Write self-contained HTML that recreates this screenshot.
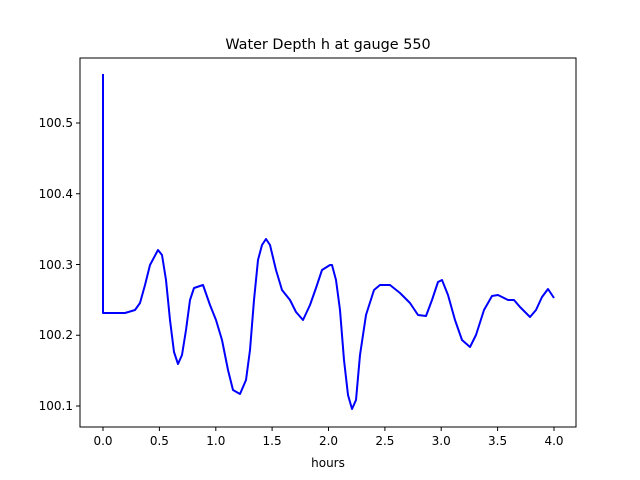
<!DOCTYPE html>
<html><head><style>body{margin:0;background:#fff}svg{display:block}text{font-family:"DejaVu Sans","Liberation Sans",sans-serif;font-size:12px;fill:#000}</style></head><body>
<svg width="640" height="480" viewBox="0 0 640 480">
<rect x="80" y="58" width="496" height="369" fill="#fff" stroke="#000" stroke-width="1"/>
<text x="328" y="49" text-anchor="middle" style="font-size:14.4px">Water Depth h at gauge 550</text>
<g stroke="#000">
<line x1="103" y1="427" x2="103" y2="431"/><line x1="159.4" y1="427" x2="159.4" y2="431"/><line x1="215.8" y1="427" x2="215.8" y2="431"/><line x1="272.1" y1="427" x2="272.1" y2="431"/><line x1="328.5" y1="427" x2="328.5" y2="431"/><line x1="384.9" y1="427" x2="384.9" y2="431"/><line x1="441.2" y1="427" x2="441.2" y2="431"/><line x1="497.6" y1="427" x2="497.6" y2="431"/><line x1="554" y1="427" x2="554" y2="431"/>
<line x1="76" y1="123" x2="80" y2="123"/><line x1="76" y1="193.75" x2="80" y2="193.75"/><line x1="76" y1="264.5" x2="80" y2="264.5"/><line x1="76" y1="335.25" x2="80" y2="335.25"/><line x1="76" y1="406" x2="80" y2="406"/>
</g>
<g text-anchor="middle">
<text x="103" y="445">0.0</text><text x="159.4" y="445">0.5</text><text x="215.8" y="445">1.0</text><text x="272.1" y="445">1.5</text><text x="328.5" y="445">2.0</text><text x="384.9" y="445">2.5</text><text x="441.2" y="445">3.0</text><text x="497.6" y="445">3.5</text><text x="554" y="445">4.0</text>
<text x="328" y="467">hours</text>
</g>
<g text-anchor="end">
<text x="73" y="127">100.5</text><text x="73" y="198">100.4</text><text x="73" y="269">100.3</text><text x="73" y="339">100.2</text><text x="73" y="410">100.1</text>
</g>
<polyline fill="none" stroke="#0000ff" stroke-width="2" stroke-linejoin="round" points="103,74 103,313 125,313 135,310 140,303 145,285 150,265 158,250 162,255 166,280 170,320 174,352 178,364 182,355 186,330 190,300 194,288 203,285 210,305 216,320 222,340 228,370 233,390 240,394 246,380 250,350 254,300 258,260 262,245 266,239 270,245 276,270 282,290 290,300 296,312 303,320 310,305 316,288 322,270 330,265 332,265 336,280 340,310 344,360 348,395 352,409 356,400 360,355 366,315 374,290 380,285 390,285 400,293 410,303 418,315 426,316 432,300 438,282 442,280 448,295 455,320 462,340 470,347 476,335 484,310 492,296 498,295 508,300 514,300 520,307 530,317 536,310 542,297 548,289 554,298"/>
</svg>
</body></html>
